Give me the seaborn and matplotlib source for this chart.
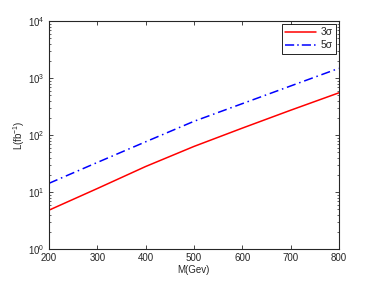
import seaborn as sns
import matplotlib.pyplot as plt
import pandas as pd
import numpy as np

mass = [200, 300, 400, 500, 600, 700, 800]
lumi_3sigma = [4.8, 11.5, 28, 63, 132, 272, 550]
lumi_5sigma = [14.2, 33, 76, 174, 355, 725, 1480]

df = pd.DataFrame({
    "M": mass * 2,
    "L": lumi_3sigma + lumi_5sigma,
    "sig": ["3\u03c3"] * len(mass) + ["5\u03c3"] * len(mass),
})

sns.set_style("ticks")
plt.rcParams['font.family'] = ['Liberation Sans', 'DejaVu Sans']
plt.rcParams['mathtext.fontset'] = 'custom'
plt.rcParams['mathtext.rm'] = 'Liberation Sans'

fig = plt.figure(figsize=(3.74, 2.81), dpi=100)
ax = fig.add_axes([0.131, 0.114, 0.775, 0.811])

sns.lineplot(data=df, x="M", y="L", hue="sig", style="sig",
             palette=["#ff0000", "#0000ff"],
             dashes=[(None, None), (6, 2, 1, 2)],
             linewidth=1.1, ax=ax)
ax.lines[1].set_dashes((6, 2.5, 1, 2.5))

ax.set_yscale("log")
ax.set_xlim(200, 800)
ax.set_ylim(1, 1e4)
ax.set_xticks([200, 300, 400, 500, 600, 700, 800])
ax.set_xlabel("M(Gev)", fontsize=7, labelpad=1)
ax.set_ylabel("L(fb$^{-1}$)", fontsize=7, labelpad=1)
ax.tick_params(which="both", direction="in", top=True, right=True, labelsize=7, pad=3)
ax.tick_params(which="major", length=3, width=0.6)
ax.tick_params(which="minor", length=1.5, width=0.5)
for s in ax.spines.values():
    s.set_linewidth(0.8)

leg = ax.legend(title=None, loc="upper right", fontsize=7.5, fancybox=False,
                edgecolor="black", framealpha=1, borderaxespad=0.3,
                handlelength=3, labelspacing=0.3, borderpad=0.3,
                handletextpad=0.4)
leg.get_frame().set_linewidth(0.6)

fig.savefig("out.png", dpi=100)
